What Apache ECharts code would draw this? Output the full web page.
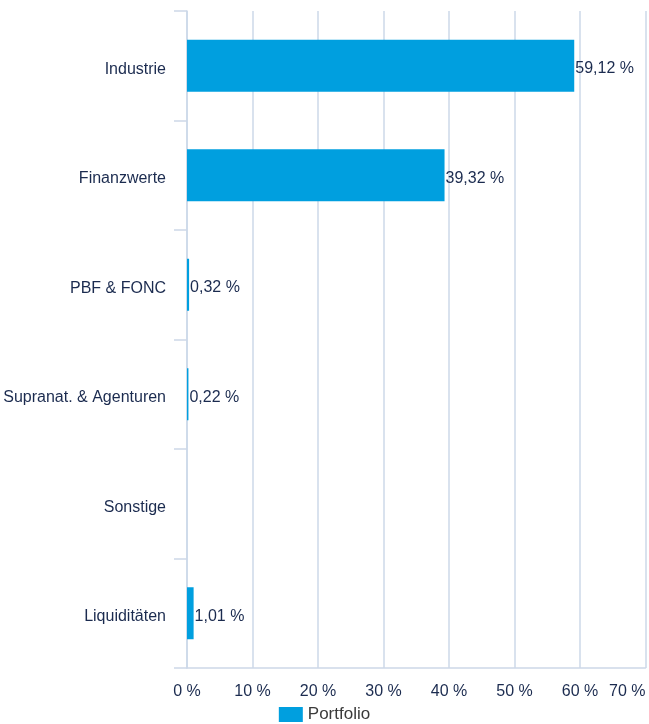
<!DOCTYPE html>
<html>
<head>
<meta charset="utf-8">
<script src="https://cdn.jsdelivr.net/npm/echarts@6/dist/echarts.min.js"></script>
<style>
  html, body { margin: 0; padding: 0; background: #fff; }
  #chart { width: 649px; height: 724px; }
</style>
</head>
<body>
<div id="chart"></div>
<script>
const categories = ['Industrie', 'Finanzwerte', 'PBF & FONC', 'Supranat. & Agenturen', 'Sonstige', 'Liquiditäten'];
const portfolio = [59.12, 39.32, 0.32, 0.22, 0, 1.01];
const seriesName = 'Portfolio';

const textColor = '#1b2b4f';
const lineColor = '#cdd8e8';
const barColor = '#009fdf';

const fmt = (v) => v.toFixed(2).replace('.', ',') + ' %';

const myChart = echarts.init(document.getElementById('chart'));

const option = {
  animation: false,
  textStyle: { fontFamily: 'Liberation Sans, Arial, sans-serif' },
  grid: {
    left: 187,
    right: 3.5,
    top: 11,
    bottom: 56
  },
  legend: {
    data: [seriesName],
    left: 'center',
    top: 701,
    itemWidth: 24,
    itemHeight: 15,
    icon: 'rect',
    textStyle: { color: '#3a3a3a', fontSize: 17 }
  },
  xAxis: {
    type: 'value',
    min: 0,
    max: 70,
    interval: 10,
    axisLine: { show: true, lineStyle: { color: lineColor, width: 1.5 } },
    axisTick: { show: false },
    splitLine: { show: true, lineStyle: { color: lineColor, width: 1.5 } },
    axisLabel: {
      color: textColor,
      fontSize: 16,
      margin: 16,
      alignMaxLabel: 'right',
      formatter: '{value} %'
    }
  },
  yAxis: {
    type: 'category',
    data: categories,
    inverse: true,
    axisLine: { show: true, lineStyle: { color: lineColor, width: 1.5 } },
    axisTick: { show: true, length: 13, lineStyle: { color: lineColor, width: 1.5 } },
    // push the names a few px below the band centre, like the original
    axisLabel: { color: textColor, fontSize: 16, margin: 21, verticalAlign: 'top', lineHeight: 7 }
  },
  series: [
    {
      name: seriesName,
      type: 'bar',
      data: portfolio,
      barWidth: 52,
      itemStyle: { color: barColor },
      label: {
        show: true,
        position: 'right',
        distance: 1,
        offset: [0, 3],
        color: textColor,
        fontSize: 16,
        formatter: (p) => (p.value ? fmt(p.value) : '')
      }
    }
  ]
};

myChart.setOption(option);
</script>
</body>
</html>
